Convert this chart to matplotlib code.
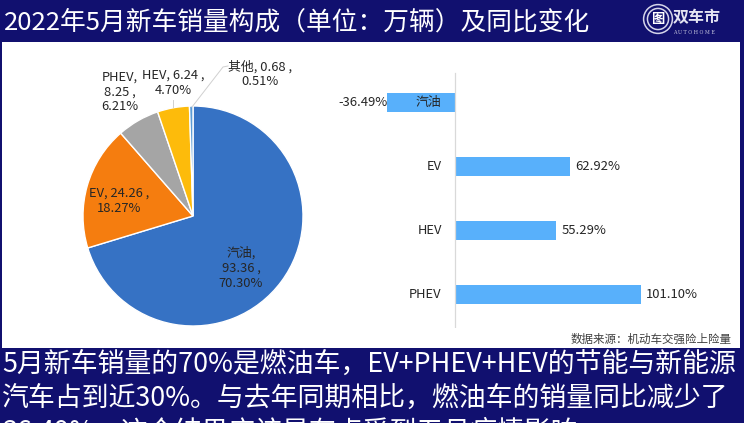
import matplotlib
matplotlib.use("Agg")
import matplotlib.pyplot as plt
from matplotlib.patches import Rectangle, Circle

plt.rcParams['font.family'] = ['Noto Sans CJK SC', 'DejaVu Sans']

W, H = 744, 423

# pie data (万辆, %)
pie_names = ["汽油", "EV", "PHEV", "HEV", "其他"]
pie_sales = [93.36, 24.26, 8.25, 6.24, 0.68]
pie_share = ["70.30%", "18.27%", "6.21%", "4.70%", "0.51%"]
pie_colors = ["#3672c4", "#f57d0f", "#a5a5a5", "#fdbb0b", "#5b9bd5"]

# yoy bars
bar_names = ["汽油", "EV", "HEV", "PHEV"]
bar_values = [-36.49, 62.92, 55.29, 101.10]

title = "2022年5月新车销量构成（单位：万辆）及同比变化"
source = "数据来源：机动车交强险上险量"
body_lines = [
    "5月新车销量的70%是燃油车，EV+PHEV+HEV的节能与新能源",
    "汽车占到近30%。与去年同期相比，燃油车的销量同比减少了",
    "36.49%，这个结果应该是有点受到五月疫情影响",
]

NAVY = "#11106f"


def px_axes(fig, x0, y0, x1, y1):
    # y measured from the top of the picture, like in the screenshot
    return fig.add_axes([x0 / W, 1 - y1 / H, (x1 - x0) / W, (y1 - y0) / H])


def put(fig, x, y, s, **kw):
    fig.text(x / W, 1 - y / H, s, **kw)


fig = plt.figure(figsize=(W / 100, H / 100), dpi=100, facecolor=NAVY)

# white panel, kept under the axes
fig.add_artist(Rectangle((2 / W, 1 - 348 / H), 738 / W, 306 / H,
                         transform=fig.transFigure, facecolor="white",
                         edgecolor="none", zorder=-5))

put(fig, 4, 23, title, color="white", fontsize=18.5, va="center", ha="left")

# logo
ax_logo = px_axes(fig, 642, 3, 674, 35)
ax_logo.set_xlim(-1, 1)
ax_logo.set_ylim(-1, 1)
ax_logo.axis("off")
ax_logo.add_patch(Circle((0, 0), 0.9, fill=False, edgecolor="#d5d5ea", linewidth=1.1))
ax_logo.add_patch(Circle((0, 0), 0.66, fill=False, edgecolor="#d5d5ea", linewidth=1.1))
ax_logo.text(0, 0, "图", color="white", fontsize=9.5, ha="center", va="center", fontweight="bold")
put(fig, 673, 17, "双车市", color="#e4e4f2", fontsize=11.5, va="center", ha="left",
    fontweight="bold", style="italic")
put(fig, 694, 33, "A U T O H O M E", color="#c8c8e0", fontsize=3.5, va="center", ha="center",
    family=["DejaVu Serif"])

# pie
ax_pie = px_axes(fig, 83, 106, 303, 326)
ax_pie.pie(pie_sales, colors=pie_colors, startangle=90, counterclock=False, radius=1,
           wedgeprops=dict(edgecolor="white", linewidth=1.0))
ax_pie.set_xlim(-1, 1)
ax_pie.set_ylim(-1, 1)

lab = dict(fontsize=9.3, color="#262626", ha="center", va="center", linespacing=1.2)
put(fig, 241, 268, f"{pie_names[0]},\n{pie_sales[0]} ,\n{pie_share[0]}", **lab)
put(fig, 119, 201, f"{pie_names[1]}, {pie_sales[1]} ,\n{pie_share[1]}", **lab)
put(fig, 120, 92, f"{pie_names[2]},\n{pie_sales[2]} ,\n{pie_share[2]}", **lab)
put(fig, 173, 83, f"{pie_names[3]}, {pie_sales[3]} ,\n{pie_share[3]}", **lab)
put(fig, 260, 74, f"{pie_names[4]}, {pie_sales[4]} ,\n{pie_share[4]}", **lab)

# leader lines
fig.add_artist(plt.Line2D([192 / W, 223 / W, 228 / W],
                          [1 - 107 / H, 1 - 67 / H, 1 - 66 / H],
                          color="#d0d0d0", linewidth=0.7))
fig.add_artist(plt.Line2D([173 / W, 173 / W], [1 - 100 / H, 1 - 107 / H],
                          color="#d0d0d0", linewidth=0.7))

# bars
ax_bar = px_axes(fig, 330, 70, 700, 328)
ax_bar.patch.set_alpha(0)
y_pos = range(len(bar_names))
ax_bar.barh(y_pos, bar_values, height=0.3, color="#58b0fb")
ax_bar.set_ylim(3.523, -0.508)
ax_bar.set_xlim(-67.66, 133.4)
ax_bar.axvline(0, ymax=0.99, color="#d9d9d9", linewidth=0.9)
for s in ax_bar.spines.values():
    s.set_visible(False)
ax_bar.set_xticks([])
ax_bar.set_yticks([])
for y, name, v in zip(y_pos, bar_names, bar_values):
    if v < 0:
        ax_bar.text(v, y, f"{v:.2f}%", ha="right", va="center", fontsize=9.4, color="#262626")
    else:
        ax_bar.text(v + 2.8, y, f"{v:.2f}%", ha="left", va="center", fontsize=9.4, color="#262626")
    ax_bar.text(-7, y, name, ha="right", va="center", fontsize=9.3, color="#262626")

put(fig, 732, 339, source, color="#404040", fontsize=8.3, ha="right", va="center")

# text below the panel, third line runs off the bottom
for y, line in zip([364, 398, 432], body_lines):
    put(fig, 2, y, line, color="white", fontsize=19.4, ha="left", va="center")

fig.savefig("out.png", dpi=100, facecolor=fig.get_facecolor())
